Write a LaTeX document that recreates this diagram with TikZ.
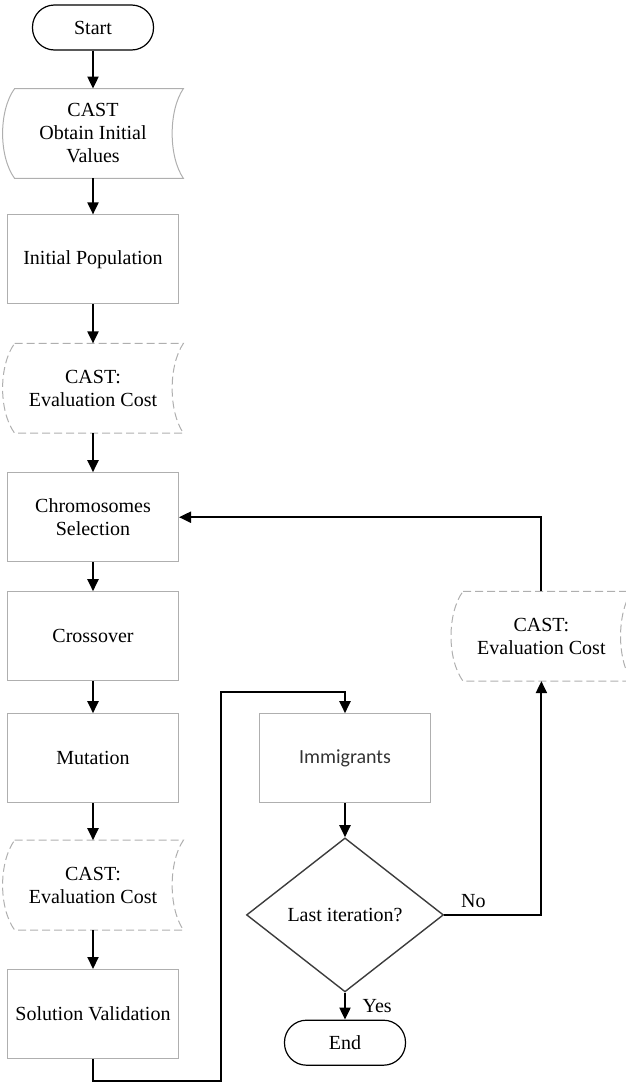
\documentclass[tikz,border=0pt]{standalone}
\usepackage{fontspec}
\setmainfont{Liberation Serif}
\newfontfamily\calibrifont{Carlito}
\usepackage{xcolor}
\usetikzlibrary{arrows.meta, positioning, shapes.geometric}
\definecolor{boxgray}{RGB}{175,175,175}
\definecolor{diamgray}{RGB}{60,60,60}

% outline of a stored-data node: bulge on the left, hollow on the right
\newcommand{\castoutline}[2]{%
  \draw[#1] ([xshift=6pt]#2.north west) -- (#2.north east)
    .. controls ([xshift=-7.5pt,yshift=-11pt]#2.north east) and ([xshift=-7.5pt,yshift=11pt]#2.south east) .. (#2.south east)
    -- ([xshift=6pt]#2.south west)
    .. controls ([xshift=-2pt,yshift=11pt]#2.south west) and ([xshift=-2pt,yshift=-11pt]#2.north west) .. cycle;}

\begin{document}
\begin{tikzpicture}[
    x=0.5pt, y=-0.5pt,
    every node/.style={font=\fontsize{10}{11.5}\selectfont},
    proc/.style={rectangle, draw=boxgray, line width=0.5pt, minimum width=85.5pt, minimum height=44.5pt, align=center},
    store/.style={rectangle, minimum width=90pt, minimum height=44.5pt, align=center},
    term/.style={rectangle, draw=black, line width=0.6pt, rounded corners=11pt, minimum width=60.5pt, minimum height=22.5pt},
    decision/.style={diamond, draw=diamgray, line width=0.7pt, minimum width=98.5pt, minimum height=77pt, inner sep=0pt},
    arrow/.style={-{Triangle[length=6pt,width=5.5pt]}, line width=1pt}
]
    \useasboundingbox (0,0) rectangle (626,1082);

    % main column
    \node[term] (start) at (93,27.5) {Start};
    \node[store, below=19pt of start] (castinit) {CAST\\Obtain Initial\\Values};
    \node[proc, below=18pt of castinit] (initpop) {Initial Population};
    \node[store, below=19.5pt of initpop] (castpop) {CAST:\\Evaluation Cost};
    \node[proc, below=19.5pt of castpop] (select) {Chromosomes\\Selection};
    \node[proc, below=14.5pt of select] (cross) {Crossover};
    \node[proc, below=16pt of cross] (mutate) {Mutation};
    \node[store, below=18.5pt of mutate] (castmut) {CAST:\\Evaluation Cost};
    \node[proc, below=19.5pt of castmut] (valid) {Solution Validation};

    % right column
    \node[proc, right=40pt of mutate, font=\calibrifont\fontsize{10}{11.5}\selectfont, text=black!80] (immig) {Immigrants};
    \node[decision, below=17pt of immig] (last) {Last iteration?};
    \node[term, below=13.5pt of last] (finish) {End};
    \node[store, right=136pt of cross] (castimm) {CAST:\\Evaluation Cost};

    \castoutline{draw=boxgray, line width=0.5pt}{castinit}
    \castoutline{draw=boxgray, line width=0.5pt, dash pattern=on 4pt off 2pt}{castpop}
    \castoutline{draw=boxgray, line width=0.5pt, dash pattern=on 4pt off 2pt}{castmut}
    \castoutline{draw=boxgray, line width=0.5pt, dash pattern=on 4pt off 2pt}{castimm}

    \draw[arrow] (start) -- (castinit);
    \draw[arrow] (castinit) -- (initpop);
    \draw[arrow] (initpop) -- (castpop);
    \draw[arrow] (castpop) -- (select);
    \draw[arrow] (select) -- (cross);
    \draw[arrow] (cross) -- (mutate);
    \draw[arrow] (mutate) -- (castmut);
    \draw[arrow] (castmut) -- (valid);
    \draw[arrow] (valid.south) -- ++(0,22) -| ([xshift=-19pt,yshift=10.5pt]immig.north west) -| (immig.north);
    \draw[arrow] (immig) -- (last);
    \draw[arrow] (last) -- node[right=5pt] {Yes} (finish);
    \draw[arrow] (last.east) -| node[pos=0.15, above] {No} (castimm.south);
    \draw[arrow] (castimm.north) |- (select.east);
\end{tikzpicture}
\end{document}
